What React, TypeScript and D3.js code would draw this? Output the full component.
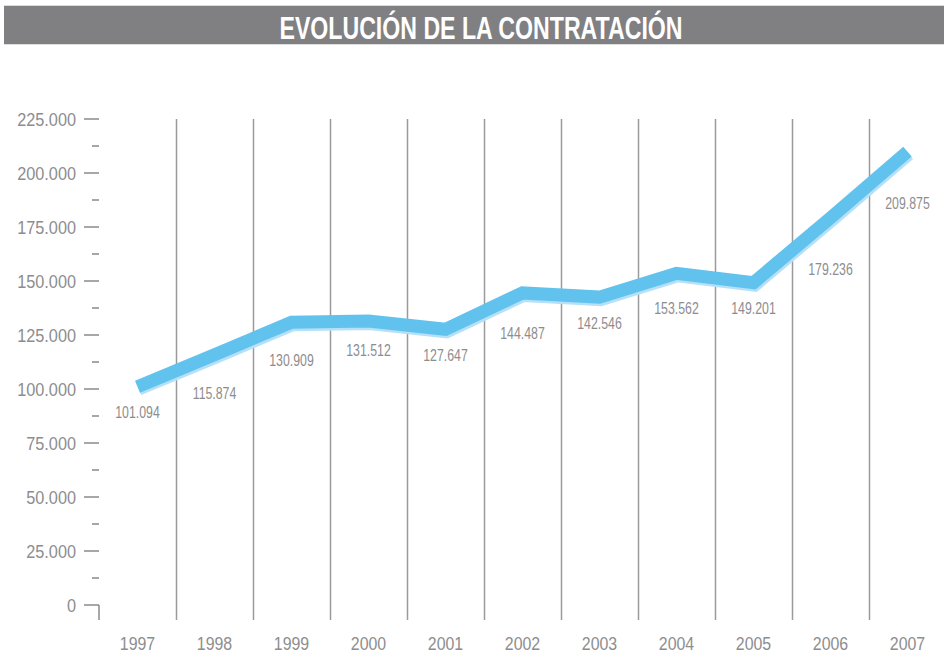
import React from 'react';
import * as d3 from 'd3';

const years = ['1997', '1998', '1999', '2000', '2001', '2002', '2003', '2004', '2005', '2006', '2007'];
const contratos = [101094, 115874, 130909, 131512, 127647, 144487, 142546, 153562, 149201, 179236, 209875];
const majorTicks = [0, 25000, 50000, 75000, 100000, 125000, 150000, 175000, 200000, 225000];
const minorTicks = [12500, 37500, 62500, 87500, 112500, 137500, 162500, 187500, 212500];

const W = 944;
const H = 655;
const FONT = '"Liberation Sans", Arial, sans-serif';
const GREY = '#8d8d8f';

const es = d3.formatLocale({ decimal: ',', thousands: '.', grouping: [3], currency: ['', '€'] });
const fmt = es.format(',');

// narrow text: the original uses a condensed face, so squeeze Liberation Sans
const Narrow = ({ x, y, sx, anchor, children, ...rest }: any) => (
  <text transform={`translate(${x},${y}) scale(${sx},1)`} textAnchor={anchor} {...rest}>
    {children}
  </text>
);

export default function App() {
  const left = 99;
  const right = 946;
  const top = 119;
  const bottom = 605;

  const x = d3.scaleBand<string>().domain(years).range([left, right]).padding(0);
  const y = d3.scaleLinear().domain([0, 225000]).range([bottom, top]);
  const cx = (i: number) => (x(years[i]) as number) + x.bandwidth() / 2;

  const line = d3
    .line<number>()
    .x((_, i) => cx(i))
    .y((d) => y(d));

  // place each label just under the lowest part of the line near its point
  const labelY = (i: number) => {
    const t = 30 / x.bandwidth();
    let maxY = y(contratos[i]);
    if (i > 0) maxY = Math.max(maxY, y(contratos[i]) + t * (y(contratos[i - 1]) - y(contratos[i])));
    if (i < contratos.length - 1)
      maxY = Math.max(maxY, y(contratos[i]) + t * (y(contratos[i + 1]) - y(contratos[i])));
    return maxY + 26;
  };

  return (
    <svg width={W} height={H} style={{ position: 'absolute', left: 0, top: 0, background: '#fff' }}>
      {/* title bar */}
      <rect x={4} y={6} width={W - 4} height={38} fill="#808083" />
      <line x1={4} x2={W} y1={5.5} y2={5.5} stroke="#dcdcdc" />
      <line x1={4} x2={W} y1={44.5} y2={44.5} stroke="#dcdcdc" />
      <text
        x={481}
        y={39}
        textAnchor="middle"
        fill="#fff"
        fontFamily={FONT}
        fontWeight="bold"
        fontSize={32}
        textLength={403}
        lengthAdjust="spacingAndGlyphs"
      >
        EVOLUCIÓN DE LA CONTRATACIÓN
      </text>

      {/* vertical grid lines */}
      {years.slice(1).map((yr) => (
        <line
          key={yr}
          x1={(x(yr) as number) + 0.5}
          x2={(x(yr) as number) + 0.5}
          y1={top}
          y2={620}
          stroke="#9a9a9c"
          strokeWidth={1.5}
        />
      ))}

      {/* y axis */}
      <g fontFamily={FONT} fontSize={18.5} fill={GREY}>
        {majorTicks.map((t) => (
          <g key={t}>
            <line x1={84} x2={left} y1={y(t)} y2={y(t)} stroke="#8a8a8c" strokeWidth={1.5} />
            <Narrow x={76} y={y(t)} sx={0.88} anchor="end" dy="0.36em">
              {fmt(t)}
            </Narrow>
          </g>
        ))}
        {minorTicks.map((t) => (
          <line key={t} x1={92} x2={left} y1={y(t)} y2={y(t)} stroke="#8a8a8c" strokeWidth={1.5} />
        ))}
        <line x1={left} x2={left} y1={y(0)} y2={620} stroke="#8a8a8c" strokeWidth={1.5} />
      </g>

      {/* x labels */}
      <g fontFamily={FONT} fontSize={18.5} fill={GREY}>
        {years.map((yr, i) => (
          <Narrow key={yr} x={cx(i)} y={650} sx={0.86} anchor="middle">
            {yr}
          </Narrow>
        ))}
      </g>

      {/* line */}
      <path
        d={line(contratos) || ''}
        fill="none"
        stroke="#b5e0f7"
        strokeWidth={14}
        strokeLinejoin="miter"
        strokeLinecap="butt"
        transform="translate(1,2)"
      />
      <path
        d={line(contratos) || ''}
        fill="none"
        stroke="#62c2ee"
        strokeWidth={13}
        strokeLinejoin="miter"
        strokeLinecap="butt"
      />

      {/* value labels */}
      <g fontFamily={FONT} fontSize={16} fill={GREY}>
        {contratos.map((v, i) => (
          <Narrow key={i} x={cx(i)} y={labelY(i)} sx={0.77} anchor="middle" dy="0.35em">
            {fmt(v)}
          </Narrow>
        ))}
      </g>
    </svg>
  );
}
